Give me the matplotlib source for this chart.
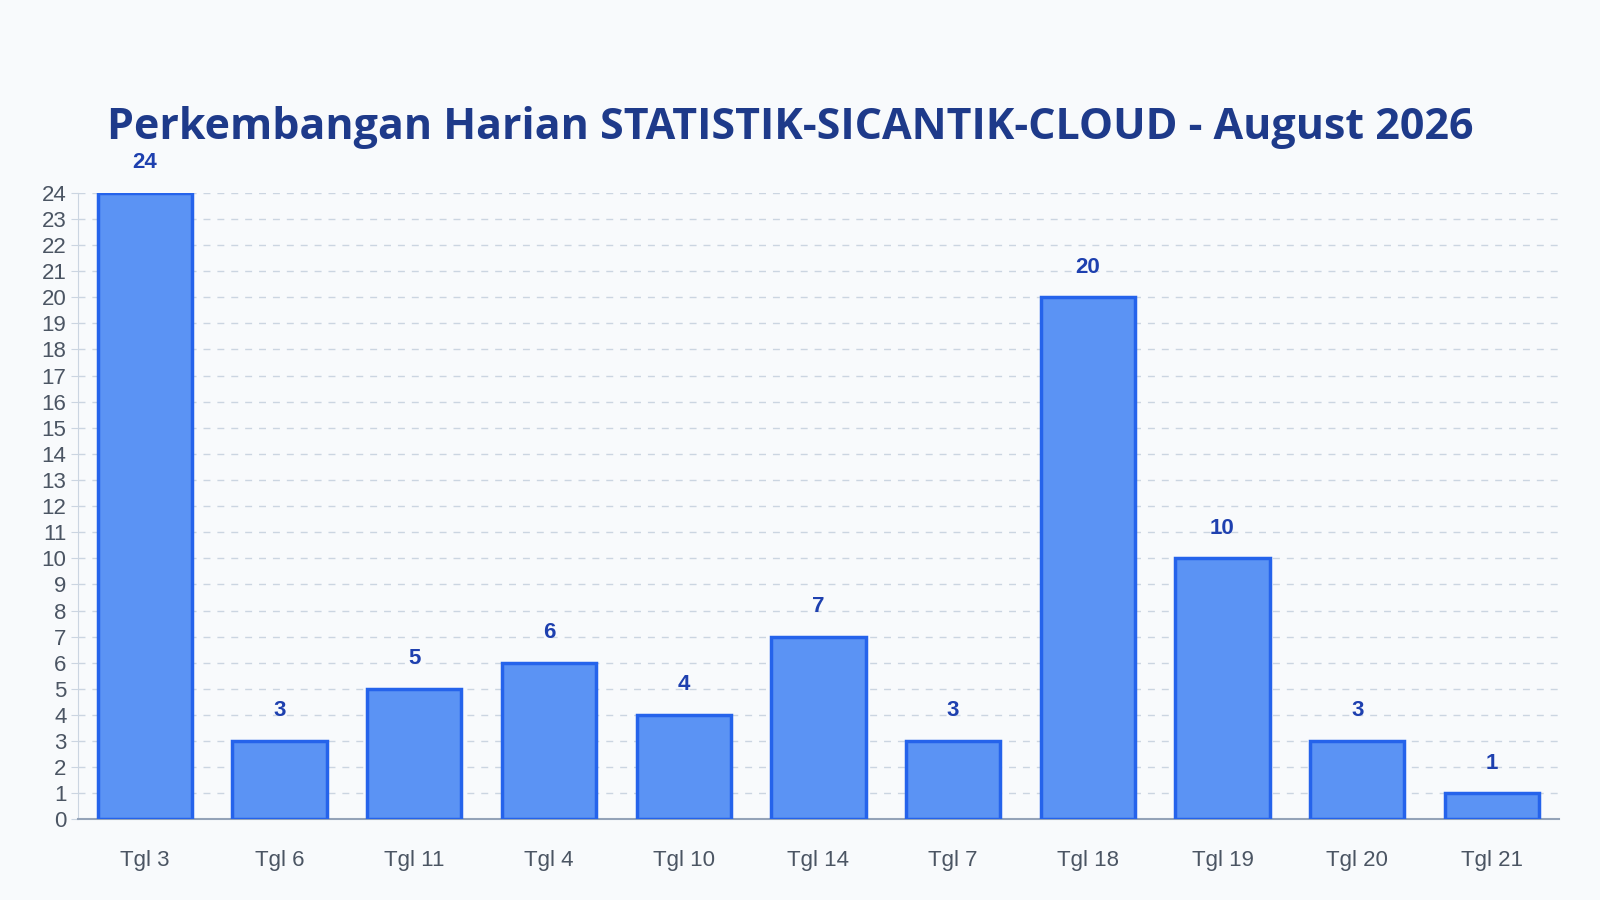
import matplotlib
matplotlib.use("Agg")
import matplotlib.pyplot as plt

categories = ["Tgl 3", "Tgl 6", "Tgl 11", "Tgl 4", "Tgl 10", "Tgl 14", "Tgl 7", "Tgl 18", "Tgl 19", "Tgl 20", "Tgl 21"]
values = [24, 3, 5, 6, 4, 7, 3, 20, 10, 3, 1]
title = "Perkembangan Harian STATISTIK-SICANTIK-CLOUD - August 2026"

plt.rcParams['font.family'] = ['Liberation Sans', 'DejaVu Sans']
bg = "#f8fafc"
fig = plt.figure(figsize=(16, 9), dpi=100, facecolor=bg)
ax = fig.add_axes([0.0485, 0.0896, 0.926, 0.6961], facecolor=bg)

x = list(range(len(categories)))
ax.bar(x, values, width=0.7, color="#5b93f4", edgecolor="#2563eb", linewidth=2.5, zorder=3)
for xi, v in zip(x, values):
    ax.text(xi, v + 0.75, str(v), ha="center", va="bottom", fontsize=16, fontweight="bold", color="#1e40af")

ax.set_xlim(-0.5, len(categories) - 0.5)
ax.set_ylim(0, 24)
ax.set_yticks(range(0, 25))
ax.set_xticks(x)
ax.set_xticklabels(categories)
ax.tick_params(axis="x", length=0, pad=22, labelsize=16, labelcolor="#4b5563")
ax.tick_params(axis="y", length=5, color="#cbd5e1", labelsize=16, labelcolor="#4b5563", pad=3)
ax.grid(axis="y", linestyle=(0, (5, 5)), color="#cbd5e1", linewidth=1, zorder=0)
for s in ["top", "right"]:
    ax.spines[s].set_visible(False)
ax.spines["left"].set_color("#cbd5e1")
ax.spines["bottom"].set_color("#94a3b8")
ax.spines["bottom"].set_linewidth(1.5)

fig.text(0.494, 0.858, title, ha="center", va="center", fontsize=31, fontweight="bold",
         color="#1e3a8a", family=["Open Sans", "Noto Sans", "DejaVu Sans"])

fig.savefig("out.png", dpi=100, facecolor=bg)
